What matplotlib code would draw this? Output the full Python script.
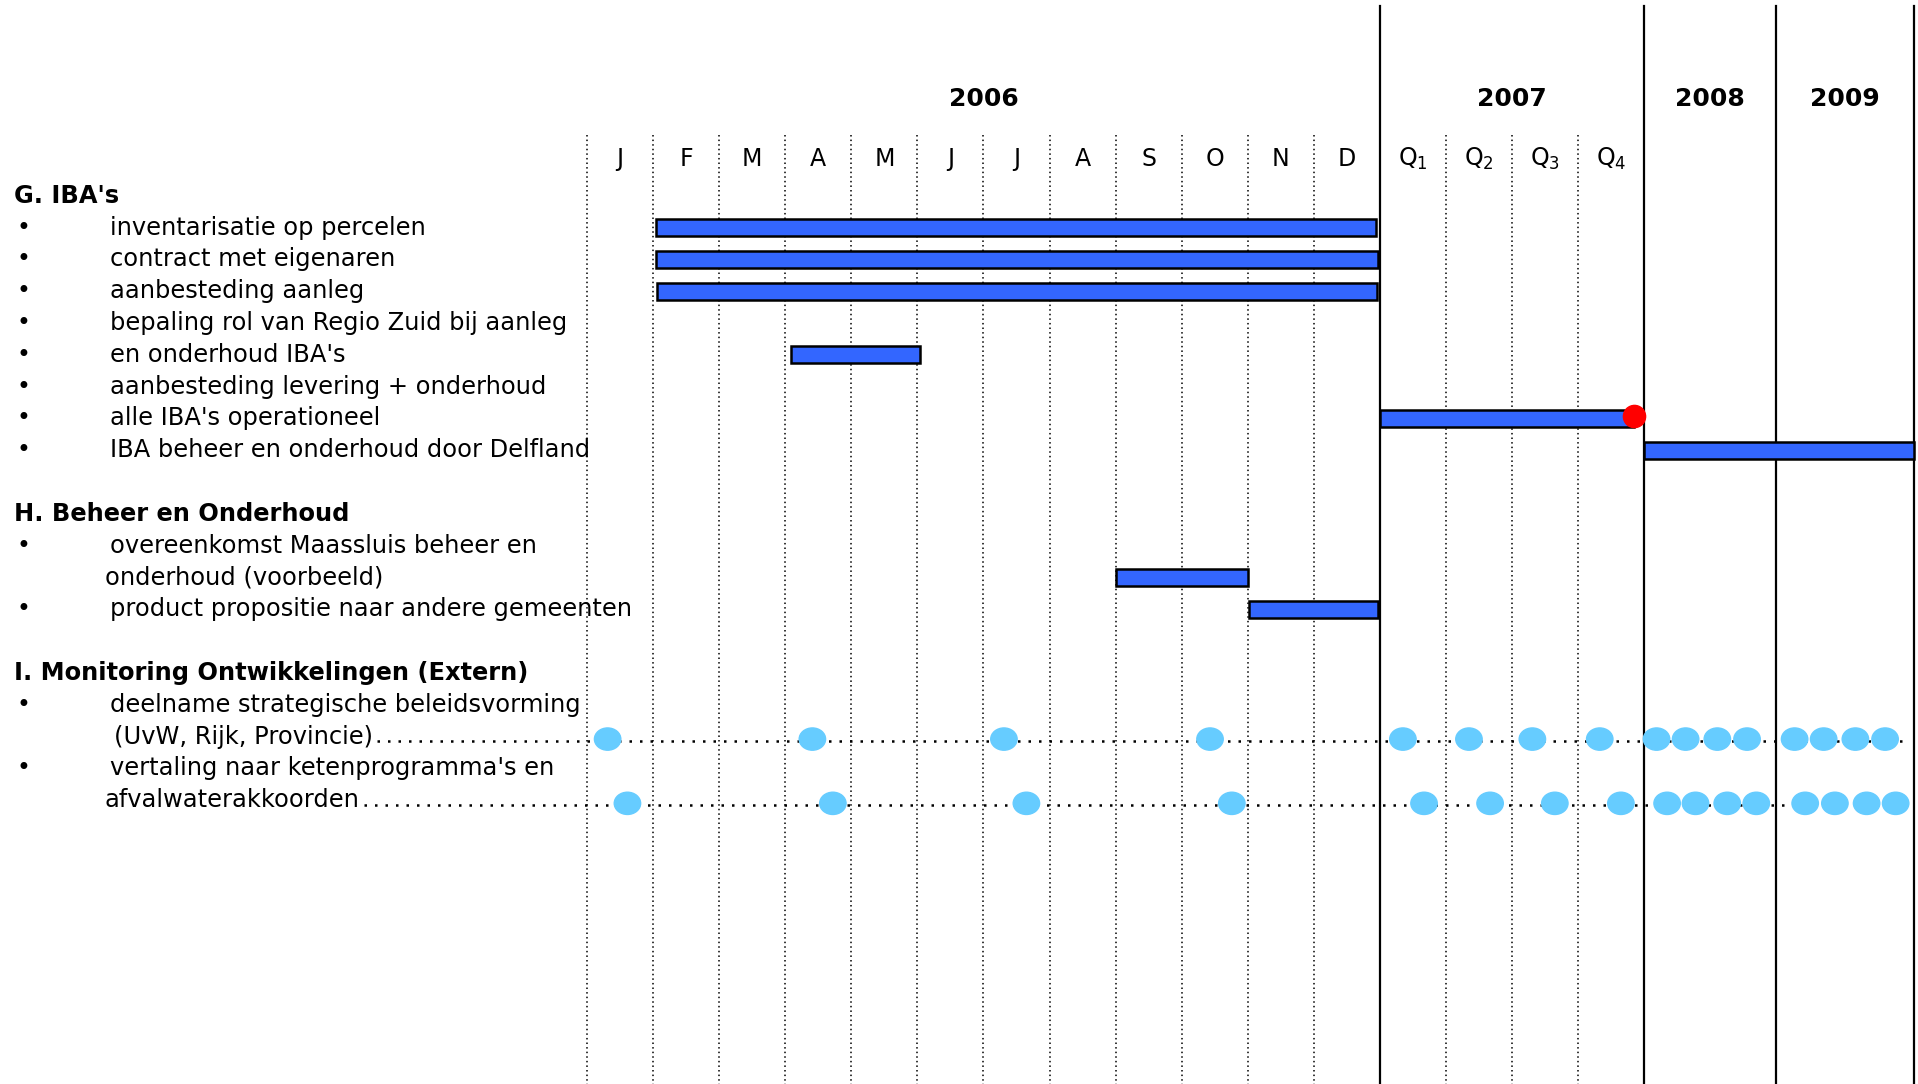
import matplotlib.pyplot as plt
from matplotlib.patches import Ellipse

plt.rcParams['font.family'] = ['DejaVu Sans']
plt.rcParams['mathtext.fontset'] = 'dejavusans'

# timeline: x unit = one month of 2006 (quarters of 2007 also one unit each)
months = ['J', 'F', 'M', 'A', 'M', 'J', 'J', 'A', 'S', 'O', 'N', 'D']
quarters = ['Q$_1$', 'Q$_2$', 'Q$_3$', 'Q$_4$']
years = ['2006', '2007', '2008', '2009']
year_edges = [0, 12, 16, 18, 20.09]

# rows: (row index, kind, text)
rows = [
    (0, 'head', "G. IBA's"),
    (1, 'item', "inventarisatie op percelen"),
    (2, 'item', "contract met eigenaren"),
    (3, 'item', "aanbesteding aanleg"),
    (4, 'item', "bepaling rol van Regio Zuid bij aanleg"),
    (5, 'item', "en onderhoud IBA's"),
    (6, 'item', "aanbesteding levering + onderhoud"),
    (7, 'item', "alle IBA's operationeel"),
    (8, 'item', "IBA beheer en onderhoud door Delfland"),
    (10, 'head', "H. Beheer en Onderhoud"),
    (11, 'item', "overeenkomst Maassluis beheer en"),
    (12, 'cont', "onderhoud (voorbeeld)"),
    (13, 'item', "product propositie naar andere gemeenten"),
    (15, 'head', "I. Monitoring Ontwikkelingen (Extern)"),
    (16, 'item', "deelname strategische beleidsvorming"),
    (17, 'cont2', "(UvW, Rijk, Provincie)"),
    (18, 'item', "vertaling naar ketenprogramma's en"),
    (19, 'cont', "afvalwaterakkoorden"),
]

# bars: row, start, end (timeline units)
bar_rows = [1, 2, 3, 5, 7, 8, 12, 13]
bar_start = [1.04, 1.04, 1.06, 3.08, 12.0, 16.0, 8.0, 10.02]
bar_end = [11.94, 11.98, 11.96, 5.04, 15.85, 20.09, 10.0, 11.98]

milestone_x = 15.85
milestone_row = 6.92

# monitoring moments
dots1_row = 17.08
dots1_x = [0.31, 3.41, 6.31, 9.43, 12.35, 13.35, 14.31, 15.33,
           16.19, 16.63, 17.11, 17.56, 18.28, 18.72, 19.20, 19.65]
dots2_row = 19.1
dots2_x = [0.61, 3.72, 6.65, 9.76, 12.67, 13.67, 14.65, 15.65,
           16.35, 16.78, 17.26, 17.70, 18.44, 18.89, 19.37, 19.81]

PX = 54.0      # display px per month
RY = 26.0      # display px per row
fig = plt.figure(figsize=(19.18, 10.84), dpi=100)
ax = fig.add_axes([0, 0, 1, 1])
ax.set_xlim(-480 / PX, (1568 - 480) / PX)
ax.set_ylim((886 - 160) / RY, -160 / RY)
ax.axis('off')

top_dot = -1.92
top_solid = -5.96
bottom = 30

# grid lines
dotted_x = list(range(0, 12)) + [13, 14, 15]
for x in dotted_x:
    ax.plot([x, x], [top_dot, bottom], color='black', lw=1.1,
            linestyle=(0, (1, 2)), zorder=1)
for x in year_edges[1:]:
    ax.plot([x, x], [top_solid, bottom], color='black', lw=1.6, zorder=1)

# headers
for i, y in enumerate(years):
    xc = (year_edges[i] + year_edges[i + 1]) / 2
    ax.text(xc, -3.04, y, ha='center', va='center', fontsize=18, fontweight='bold')
for i, m in enumerate(months):
    ax.text(i + 0.5, -1.15, m, ha='center', va='center', fontsize=17)
for i, q in enumerate(quarters):
    ax.text(12 + i + 0.5, -1.15, q, ha='center', va='center', fontsize=17)

# row labels
xpos = {'head': -8.67, 'item': -7.22, 'cont': -7.30, 'cont2': -7.17}
labels = {}
for r, kind, txt in rows:
    if kind == 'head':
        ax.text(xpos[kind], r, txt, ha='left', va='center', fontsize=17.4,
                fontweight='bold')
    else:
        if kind == 'item':
            ax.text(-8.64, r, '•', ha='left', va='center', fontsize=17)
        labels[r] = ax.text(xpos[kind], r, txt, ha='left', va='center', fontsize=17.4)

# bars
for r, s, e in zip(bar_rows, bar_start, bar_end):
    ax.barh(r, e - s, left=s, height=0.54, color='#3366FF',
            edgecolor='black', linewidth=1.8, zorder=3)

ax.plot(milestone_x, milestone_row, 'o', color='#FF0000', markersize=16, zorder=4)

# leader lines start right after the label text
fig.canvas.draw()
renderer = fig.canvas.get_renderer()
inv = ax.transData.inverted()
for lab_row, yr in [(17, dots1_row), (19, dots2_row)]:
    bb = labels[lab_row].get_window_extent(renderer)
    x_start = inv.transform((bb.x1 + 4, bb.y0))[0]
    ax.plot([x_start, 19.94], [yr + 0.05, yr + 0.05], color='black',
            lw=1.8, linestyle=(0, (1, 3.2)), zorder=2)

for xs, yr in [(dots1_x, dots1_row), (dots2_x, dots2_row)]:
    for x in xs:
        ax.add_patch(Ellipse((x, yr), 0.4, 0.7, color='#66CCFF', zorder=4))

fig.savefig('out.png', dpi=100)
